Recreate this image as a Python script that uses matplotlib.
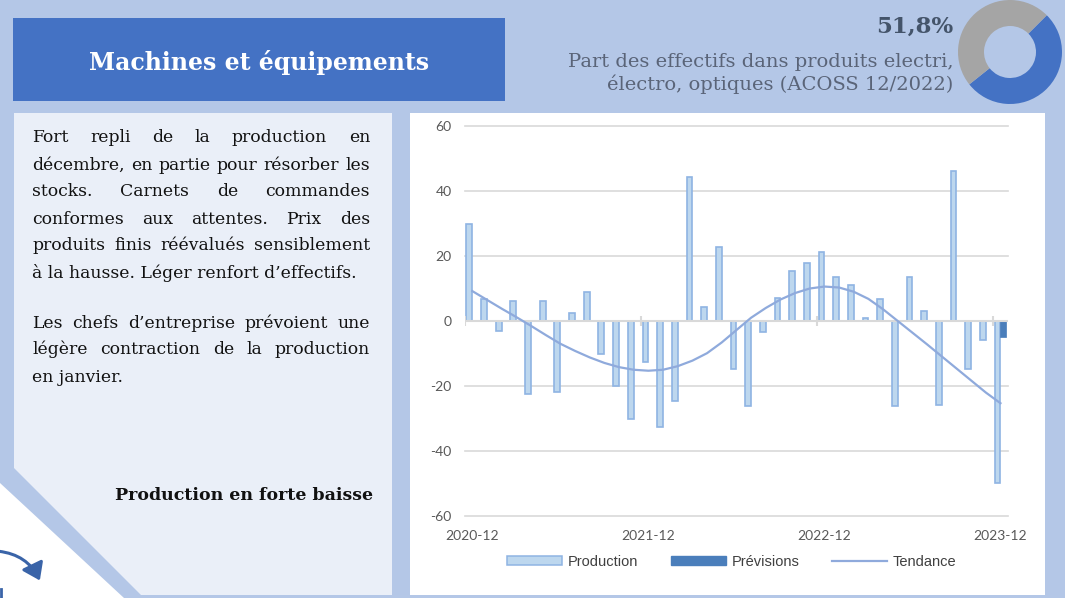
import matplotlib
matplotlib.use("Agg")
import matplotlib.pyplot as plt
from matplotlib.patches import Polygon, Rectangle, FancyArrowPatch, Patch
from matplotlib.lines import Line2D
import numpy as np

plt.rcParams["axes.unicode_minus"] = False

# ---------------- data ----------------
production = [30.0, 6.7, -3.0, 6.3, -22.5, 6.3, -21.9, 2.4, 9.0, -10.2, -20.0, -30.2,
              -12.7, -32.7, -24.5, 44.4, 4.4, 22.9, -14.9, -26.2, -3.3, 7.0, 15.5, 17.9,
              21.3, 13.6, 11.2, 1.0, 6.9, -26.2, 13.6, 3.1, -25.9, 46.2, -14.8, -5.8, -49.9]
prevision_idx = [36]
prevision = [-5.0]
tendance = [9.2, 6.5, 3.8, 1.2, -1.5, -4.3, -7.0, -9.2, -11.2, -12.9, -14.2, -15.0,
            -15.3, -15.0, -13.9, -12.2, -9.9, -6.6, -2.8, 1.0, 4.0, 6.6, 8.6, 10.0,
            10.6, 10.3, 9.0, 6.8, 3.6, 0.0, -3.6, -7.2, -10.9, -14.6, -18.3, -22.0, -25.3]
tick_idx = [0, 12, 24, 36]
tick_labels = ["2020-12", "2021-12", "2022-12", "2023-12"]
y_ticks = [-60, -40, -20, 0, 20, 40, 60]
series_names = ["Production", "Prévisions", "Tendance"]
share_value = 51.8
share_label = "51,8%"

title = "Machines et équipements"
share_text = ["Part des effectifs dans produits electri,", "électro, optiques (ACOSS 12/2022)"]
para1 = ["Fort repli de la production en",
         "décembre, en partie pour résorber les",
         "stocks. Carnets de commandes",
         "conformes aux attentes. Prix des",
         "produits finis réévalués sensiblement",
         "à la hausse. Léger renfort d’effectifs."]
para2 = ["Les chefs d’entreprise prévoient une",
         "légère contraction de la production",
         "en janvier."]
conclusion = "Production en forte baisse"

# ---------------- style ----------------
BG = "#B4C7E7"
PANEL = "#EAEFF8"
TITLE_BLUE = "#4472C4"
BAR_FILL = "#BDD7EE"
BAR_EDGE = "#8FB4E3"
PREV = "#4A7EBB"
TREND = "#8FAADC"
GRID = "#D9D9D9"
TICK = "#595959"
SERIF = "DejaVu Serif"

W, H = 1065, 598
fig = plt.figure(figsize=(W / 100, H / 100), dpi=100)
fig.patch.set_facecolor(BG)

bg = fig.add_axes([0, 0, 1, 1])
bg.set_xlim(0, W)
bg.set_ylim(H, 0)
bg.axis("off")

# title box
bg.add_patch(Rectangle((13, 18), 492, 83, facecolor=TITLE_BLUE, edgecolor="none"))
bg.text(259, 70, title, ha="center", va="baseline", color="white",
        fontsize=17, fontweight="bold", family=SERIF)

# left panel with cut corner
bg.add_patch(Polygon([(14, 113), (392, 113), (392, 595), (141, 595), (14, 468)],
                     closed=True, facecolor=PANEL, edgecolor="none"))
# white corner region with arrow
bg.add_patch(Polygon([(0, 483), (124, 598), (0, 598)], closed=True,
                     facecolor="white", edgecolor="none"))
bg.add_patch(FancyArrowPatch((-4, 551), (41, 583), connectionstyle="arc3,rad=-0.3",
                             arrowstyle="-|>,head_length=5,head_width=3.5", mutation_scale=2,
                             color="#3A64A8", lw=2.2))
bg.plot([1, 1], [589, 598], color="#3A64A8", lw=2)

# chart white area
bg.add_patch(Rectangle((410, 113), 635, 482, facecolor="white", edgecolor="none"))

# share text
bg.text(953, 33, share_label, ha="right", va="baseline", color="#44546A",
        fontsize=16.5, fontweight="bold", family=SERIF)
bg.text(953, 67, share_text[0], ha="right", va="baseline", color="#5A6478",
        fontsize=14, family=SERIF)
bg.text(953, 90, share_text[1], ha="right", va="baseline", color="#5A6478",
        fontsize=14, family=SERIF)

# justified paragraph text
renderer = fig.canvas.get_renderer()
txt_kw = dict(fontsize=12.4, family=SERIF, color="#111111")


def draw_line(line, y, x0, x1, justify):
    if not justify:
        bg.text(x0, y, line, ha="left", va="baseline", **txt_kw)
        return
    words = line.split(" ")
    texts = [bg.text(0, y, w, ha="left", va="baseline", **txt_kw) for w in words]
    widths = [t.get_window_extent(renderer).width for t in texts]
    gap = (x1 - x0 - sum(widths)) / (len(words) - 1)
    x = x0
    for t, w in zip(texts, widths):
        t.set_x(x)
        x += w + gap


for i, line in enumerate(para1):
    draw_line(line, 142.5 + 27 * i, 32, 370, i < len(para1) - 1)
for i, line in enumerate(para2):
    draw_line(line, 327.5 + 27 * i, 32, 370, i < len(para2) - 1)

bg.text(373, 500, conclusion, ha="right", va="baseline", fontsize=12.5,
        fontweight="bold", family=SERIF, color="#111111")

# ---------------- chart ----------------
ax = fig.add_axes([465 / W, 1 - 516 / H, 542.8 / W, 390 / H])
ax.patch.set_alpha(0)
for s in ax.spines.values():
    s.set_visible(False)
x = np.arange(len(production))
ax.set_xlim(-0.5, len(production) - 0.5)
ax.set_ylim(y_ticks[0], y_ticks[-1])

for v in y_ticks:
    if v != 0:
        ax.axhline(v, color=GRID, lw=1.2, zorder=0, clip_on=False)

ax.bar(x - 0.2, production, width=0.4, color=BAR_FILL, edgecolor=BAR_EDGE, lw=1.2, zorder=2)
ax.bar(np.array(prevision_idx) + 0.2, prevision, width=0.4, color=PREV, edgecolor=PREV,
       lw=0.5, zorder=2)
ax.axhline(0, color=GRID, lw=1.5, zorder=3)
ax.vlines(np.array(tick_idx) - 0.5, -1.6, 1.6, color=GRID, lw=1.5, zorder=3)
ax.plot(x, tendance, color=TREND, lw=1.6, zorder=4)

ax.set_yticks(y_ticks)
ax.set_xticks(tick_idx, tick_labels)
ax.tick_params(axis="both", length=0, colors=TICK, labelsize=10)
ax.tick_params(axis="x", pad=10)
ax.tick_params(axis="y", pad=9.5)
for lab in ax.get_xticklabels() + ax.get_yticklabels():
    lab.set_family("Lato")

handles = [Patch(facecolor=BAR_FILL, edgecolor=BAR_EDGE, lw=1.1),
           Patch(facecolor=PREV, edgecolor=PREV),
           Line2D([], [], color=TREND, lw=1.6)]
fig.legend(handles, series_names, loc="center", bbox_to_anchor=(732 / W, 1 - 562 / H),
           ncol=3, frameon=False, prop={"family": "Liberation Sans", "size": 10.5},
           handlelength=3.75, handleheight=0.55, handletextpad=0.4, columnspacing=2.25,
           labelcolor="#404040")

# ---------------- donut ----------------
pa = fig.add_axes([(1010 - 52) / W, 1 - (52 + 52) / H, 104 / W, 104 / H])
pa.pie([share_value, 100 - share_value], colors=[TITLE_BLUE, "#A5A5A5"], startangle=45,
       counterclock=False, wedgeprops=dict(width=0.5, edgecolor="none"))
pa.set_xlim(-1, 1)
pa.set_ylim(-1, 1)
pa.set_aspect("equal")

fig.savefig("out.png", dpi=100, facecolor=BG)
